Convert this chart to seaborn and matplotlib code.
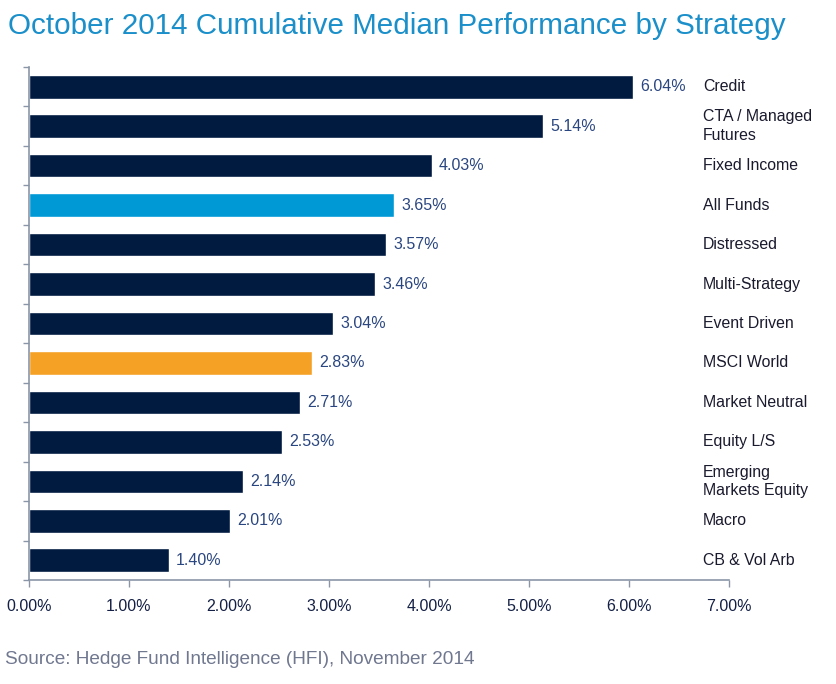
import matplotlib
matplotlib.use("Agg")
import matplotlib.pyplot as plt
import seaborn as sns
import pandas as pd
import numpy as np

categories = ["Credit", "CTA / Managed\nFutures", "Fixed Income", "All Funds", "Distressed",
              "Multi-Strategy", "Event Driven", "MSCI World", "Market Neutral", "Equity L/S",
              "Emerging\nMarkets Equity", "Macro", "CB & Vol Arb"]
values = [6.04, 5.14, 4.03, 3.65, 3.57, 3.46, 3.04, 2.83, 2.71, 2.53, 2.14, 2.01, 1.40]
xticks = [0, 1, 2, 3, 4, 5, 6, 7]

NAVY = "#001a40"
BLUE = "#0099d6"
ORANGE = "#f5a125"
colors = [BLUE if c == "All Funds" else ORANGE if c == "MSCI World" else NAVY for c in categories]

sns.set_theme(style="white")
plt.rcParams['font.family'] = ['Liberation Sans', 'DejaVu Sans']

df = pd.DataFrame({"cat": categories, "val": values})

fig = plt.figure(figsize=(8.37, 6.84), dpi=100)
ax = fig.add_axes([29/837, 1-580/684, 700/837, (580-67)/684])

sns.barplot(data=df, y="cat", x="val", hue="cat", palette=colors, legend=False,
            orient="h", width=0.6, ax=ax, saturation=1)

ax.set_xlim(0, 7)
ax.set_ylim(len(categories)-0.5, -0.5)
ax.set_xticks(xticks)
ax.set_xticklabels([f"{v:.2f}%" for v in xticks], fontsize=11.5, color="#142045")
ax.set_yticks([])
ax.set_yticks(np.arange(-0.5, len(categories)), minor=True)
ax.tick_params(axis="y", which="minor", left=True, length=4, color="#8a96a8", width=1)
ax.tick_params(axis="x", which="major", bottom=True, length=5, color="#8a96a8", width=1, pad=9)
ax.set_xlabel("")
ax.set_ylabel("")
for s in ["top", "right"]:
    ax.spines[s].set_visible(False)
for s in ["left", "bottom"]:
    ax.spines[s].set_color("#8a96a8")
    ax.spines[s].set_linewidth(1.2)

for i, (c, v) in enumerate(zip(categories, values)):
    ax.text(v + 0.07, i, f"{v:.2f}%", va="center", ha="left", fontsize=11.5, color="#2a4680")
    ax.text(6.74, i, c, va="center", ha="left", fontsize=11.4, color="#1a1a2e", linespacing=1.3)

fig.text(8/837, 1-26/684, "October 2014 Cumulative Median Performance by Strategy",
         fontsize=21.3, color="#1a8fc9", va="center", ha="left")
fig.text(5/837, 1-660/684, "Source: Hedge Fund Intelligence (HFI), November 2014",
         fontsize=13.7, color="#707890", va="center", ha="left")

fig.savefig("out.png", dpi=100)
